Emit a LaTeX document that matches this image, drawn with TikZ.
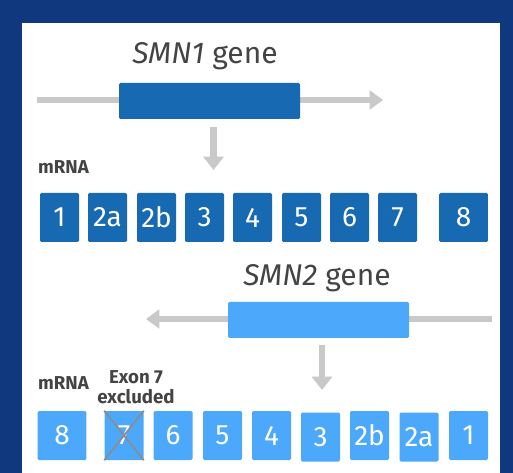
\documentclass[tikz,border=0pt]{standalone}
\usepackage{fontspec}
\setmainfont{Fira Sans}
\usetikzlibrary{arrows.meta}
\definecolor{navy}{HTML}{10387F}
\definecolor{exdark}{HTML}{1769B1}
\definecolor{exlight}{HTML}{4BA8FA}
\definecolor{arrowgray}{HTML}{C9C9C9}
\definecolor{txtgray}{HTML}{444444}
\definecolor{crossgray}{HTML}{8C8C8C}
\begin{document}
\begin{tikzpicture}[x=0.75pt,y=-0.75pt,
  exon/.style={minimum width=29.25pt, minimum height=36.75pt, inner sep=0pt,
    rounded corners=1pt, text=white, font=\fontsize{21}{21}\selectfont},
  wideexon/.style={exon, minimum width=36.5pt},
  dex/.style={exon, fill=exdark},
  lex/.style={exon, fill=exlight},
  genebox/.style={minimum width=135.75pt, minimum height=27pt, inner sep=0pt, rounded corners=1pt},
  geneline/.style={draw=arrowgray, line width=4.5pt, -{Triangle[width=14pt,length=10pt]}},
  downarrow/.style={draw=arrowgray, line width=5pt, -{Triangle[width=15pt,length=10pt]}},
  title/.style={text=txtgray, font=\fontsize{22.5}{22.5}\selectfont},
  label/.style={text=txtgray, font=\bfseries\fontsize{14}{15}\selectfont, align=center},
]
\useasboundingbox (0,0) rectangle (513,473);
\fill[navy] (0,0) rectangle (513,473);
\fill[white] (22,23) rectangle (500,473);

% SMN1
\node[title] (t1) at (205,56) {\textit{SMN1} gene};
\coordinate (g1s) at (37,100);
\coordinate (g1e) at (383,100);
\draw[geneline] (g1s) -- (g1e);
\node[genebox, fill=exdark] (gene1) at (209.5,101) {};
\coordinate (a1s) at (213.5,127);
\coordinate (a1e) at (213.5,170);
\draw[downarrow] (a1s) -- (a1e);
\node[label] (m1) at (63.5,167) {mRNA};

\node[dex] (e1) at (59.5,217.5) {1};
\node[dex] (e2a) at (107.5,217.5) {2a};
\node[dex] (e2b) at (156.5,217.5) {2b};
\node[dex] (e3) at (204.5,217.5) {3};
\node[dex] (e4) at (252.5,217.5) {4};
\node[dex] (e5) at (301.5,217.5) {5};
\node[dex] (e6) at (349.5,217.5) {6};
\node[dex] (e7) at (397.5,217.5) {7};
\node[dex, wideexon] (e8) at (463.5,217.5) {8};

% SMN2
\node[title] (t2) at (317,278) {\textit{SMN2} gene};
\coordinate (g2s) at (492,319);
\coordinate (g2e) at (146,319);
\draw[geneline] (g2s) -- (g2e);
\node[genebox, fill=exlight] (gene2) at (318.5,320) {};
\coordinate (a2s) at (322,345);
\coordinate (a2e) at (322,390);
\draw[downarrow] (a2s) -- (a2e);
\node[label] (m2) at (63.5,383) {mRNA};
\node[label] (ex7) at (136,387) {Exon 7\\excluded};

\node[lex, wideexon] (f8) at (62,435.5) {8};
\node[lex] (f7) at (124,435.5) {7};
\draw[crossgray, line width=1.3pt] (f7.north west) -- (f7.south east);
\draw[crossgray, line width=1.3pt] (f7.north east) -- (f7.south west);
\node[lex] (f6) at (173,435.5) {6};
\node[lex] (f5) at (222.5,435.5) {5};
\node[lex] (f4) at (271.5,435.5) {4};
\node[lex] (f3) at (320.5,437) {3};
\node[lex] (f2b) at (369.5,435.5) {2b};
\node[lex] (f2a) at (419,437) {2a};
\node[lex] (f1) at (468.5,435.5) {1};
\end{tikzpicture}
\end{document}
